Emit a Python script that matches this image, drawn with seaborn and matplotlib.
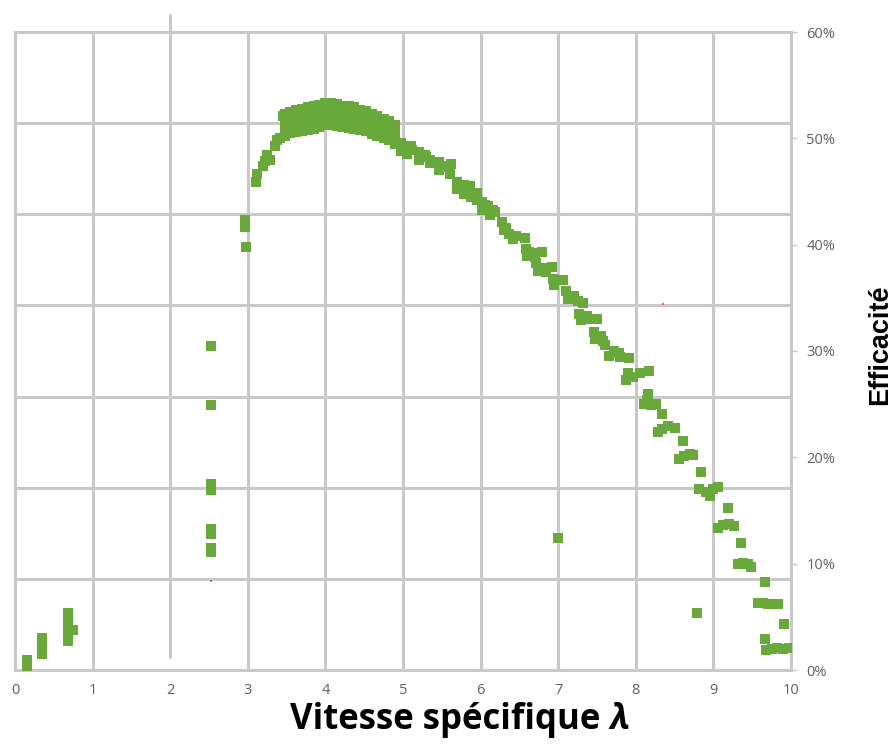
import matplotlib
matplotlib.use("Agg")
import matplotlib.pyplot as plt
import seaborn as sns
import pandas as pd

# ---- data (efficiency in %) ----
low_x = [0.15, 0.15, 0.15, 0.35, 0.35, 0.35, 0.35, 0.35,
         0.68, 0.68, 0.68, 0.68, 0.68, 0.68, 0.68, 0.68, 0.75]
low_y = [0.3, 0.6, 0.9, 1.5, 1.9, 2.3, 2.7, 3.0,
         2.7, 3.1, 3.5, 3.9, 4.3, 4.7, 5.1, 5.4, 3.8]

stall_x = [2.53, 2.53, 2.53, 2.53, 2.53, 2.53, 2.53, 2.53, 2.53,
           2.96, 2.96, 2.98]
stall_y = [30.5, 24.9, 17.5, 16.9, 13.3, 12.8, 11.5, 11.1, 11.3,
           42.3, 41.7, 39.8]

rise_x = [3.10, 3.12, 3.20, 3.22, 3.25, 3.28, 3.35, 3.38, 3.42, 3.45]
rise_y = [45.9, 46.6, 47.4, 47.9, 48.4, 48.0, 49.3, 49.8, 50.0, 52.1]

peak_x = [3.48, 3.55, 3.62, 3.70, 3.77, 3.85, 3.92, 4.00, 4.07, 4.15,
          4.22, 4.30, 4.37, 4.45, 4.52, 4.60, 4.67, 4.75, 4.82, 4.90]
peak_top = [52.3, 52.5, 52.7, 52.8, 52.9, 53.0, 53.1, 53.3, 53.3, 53.2,
            53.0, 53.0, 52.9, 52.7, 52.6, 52.3, 52.1, 51.8, 51.6, 51.3]
peak_upper = [51.6, 51.8, 52.0, 52.1, 52.2, 52.3, 52.4, 52.6, 52.6, 52.5,
              52.3, 52.3, 52.2, 52.0, 51.9, 51.6, 51.4, 51.1, 50.9, 50.6]
peak_lower = [50.9, 51.1, 51.3, 51.4, 51.5, 51.6, 51.8, 52.0, 52.0, 51.9,
              51.7, 51.6, 51.5, 51.4, 51.3, 51.0, 50.8, 50.5, 50.3, 50.0]
peak_low = [50.2, 50.5, 50.6, 50.7, 50.8, 50.9, 51.1, 51.3, 51.3, 51.2,
            51.1, 51.0, 50.9, 50.8, 50.7, 50.4, 50.2, 50.0, 49.8, 49.5]

fall_x = [4.97, 4.97, 5.05, 5.05, 5.12, 5.20, 5.20, 5.28, 5.35, 5.35,
          5.46, 5.46, 5.54, 5.60, 5.62, 5.70, 5.70, 5.78, 5.78, 5.86,
          5.88, 5.95, 5.95, 6.02, 6.02, 6.10, 6.12, 6.19, 6.27, 6.30,
          6.37, 6.42, 6.46, 6.57, 6.58, 6.60, 6.67, 6.70, 6.79, 6.72,
          6.74, 6.80, 6.84, 6.92, 6.93, 6.95, 7.06, 7.10, 7.12, 7.20,
          7.26, 7.32, 7.27, 7.30, 7.37, 7.42, 7.50, 7.46, 7.48, 7.55,
          7.58, 7.60, 7.66, 7.72, 7.78, 7.80, 7.91, 7.87, 7.90, 7.96,
          8.05, 8.17, 8.16, 8.10, 8.14, 8.20, 8.26, 8.34, 8.28, 8.34,
          8.42, 8.50, 8.61, 8.56, 8.62, 8.70, 8.74, 8.84, 8.82, 8.90,
          8.96, 9.00, 9.06, 9.19, 9.06, 9.13, 9.20, 9.27, 9.36, 9.32,
          9.38, 9.45, 9.49, 9.66, 9.58, 9.64, 9.70, 9.83, 8.79, 9.91,
          9.66, 9.68, 9.75, 9.82, 9.90, 9.97, 7.00,
          5.10, 5.30, 5.50, 5.74, 5.82, 5.91, 6.06, 6.16, 6.33, 6.62]
fall_y = [49.6, 48.8, 49.3, 48.5, 48.9, 48.7, 48.0, 48.4, 48.0, 47.7,
          47.8, 47.0, 47.3, 46.6, 47.6, 45.9, 45.2, 45.6, 44.8, 45.5,
          44.5, 44.9, 44.2, 44.0, 43.3, 43.6, 42.8, 43.1, 42.1, 41.4,
          41.0, 40.5, 40.8, 40.6, 39.6, 38.9, 39.2, 38.8, 39.3, 38.3,
          37.5, 37.8, 37.4, 37.9, 36.8, 36.2, 36.7, 35.6, 34.9, 35.2,
          34.7, 34.5, 33.5, 32.9, 33.3, 33.0, 33.0, 31.8, 31.1, 31.4,
          30.9, 30.6, 29.5, 30.0, 29.8, 29.4, 29.3, 27.3, 27.9, 27.6,
          27.9, 28.1, 26.0, 25.0, 25.4, 24.9, 25.0, 24.1, 22.4, 22.7,
          22.9, 22.8, 21.5, 19.8, 20.1, 20.3, 20.2, 18.6, 17.0, 16.7,
          16.4, 17.0, 17.2, 15.2, 13.4, 13.6, 13.7, 13.5, 11.9, 10.0,
          10.1, 10.0, 9.7, 8.3, 6.3, 6.3, 6.2, 6.2, 5.4, 4.3,
          2.9, 1.9, 2.0, 2.1, 2.0, 2.1, 12.4,
          49.3, 48.2, 47.4, 45.3, 45.0, 44.7, 43.7, 43.3, 41.6, 39.3]

red_x = [0.15, 2.53, 8.35, 4.93]
red_y = [0.1, 8.4, 34.4, 51.1]

x_ticks = [0, 1, 2, 3, 4, 5, 6, 7, 8, 9, 10]
y_ticks = [0, 10, 20, 30, 40, 50, 60]
y_tick_labels = ["0%", "10%", "20%", "30%", "40%", "50%", "60%"]
grid_y = [0, 60 / 7, 120 / 7, 180 / 7, 240 / 7, 300 / 7, 360 / 7, 60]

lam = low_x + stall_x + rise_x + peak_x * 4 + fall_x
eff = (low_y + stall_y + rise_y + peak_top + peak_upper + peak_lower
       + peak_low + fall_y)
df = pd.DataFrame({"lambda": lam, "eff": eff})
df_red = pd.DataFrame({"lambda": red_x, "eff": red_y})

# ---- style ----
sns.set_theme(style="white")
plt.rcParams["font.family"] = ["Open Sans", "DejaVu Sans"]

GREEN = "#69a93b"
GRID = "#c9c9c9"
TXT = "#5f5f5f"

fig = plt.figure(figsize=(8.96, 7.45), dpi=100)
ax = fig.add_axes([15 / 896, 75 / 745, 776 / 896, 638 / 745])

sns.scatterplot(data=df, x="lambda", y="eff", marker="s", s=42,
                color=GREEN, linewidth=0, ax=ax, zorder=3)
sns.scatterplot(data=df_red, x="lambda", y="eff", marker="s", s=3,
                color="#e8604a", linewidth=0, ax=ax, zorder=3)

ax.set_xlim(0, 10)
ax.set_ylim(0, 60)

# x axis
ax.set_xticks(x_ticks)
ax.set_xticklabels([str(v) for v in x_ticks])
ax.tick_params(axis="x", length=0, pad=9, labelsize=10.5, labelcolor=TXT)
for v in x_ticks[1:-1]:
    if v == 2:
        ax.axvline(v, ymin=0.02, ymax=1.027, color=GRID, lw=2.2,
                   clip_on=False, zorder=1)
    else:
        ax.axvline(v, color=GRID, lw=2.2, zorder=1)

# y axis: labels on the right, grid at its own positions
ax.yaxis.tick_right()
ax.set_yticks(y_ticks)
ax.set_yticklabels(y_tick_labels)
ax.tick_params(axis="y", which="major", length=4, width=1, color=GRID,
               pad=7, labelsize=10.5, labelcolor=TXT)
for v in grid_y[1:-1]:
    ax.axhline(v, color=GRID, lw=2.2, zorder=1)

for s in ax.spines.values():
    s.set_color(GRID)
    s.set_linewidth(2.2)

ax.set_xlabel("")
ax.set_ylabel("")

fig.text(600 / 896, 1 - 720 / 745, "Vitesse spécifique",
         ha="right", va="center", fontsize=25, fontweight="bold",
         color="black")
fig.text(610 / 896, 1 - 720 / 745, "λ",
         ha="left", va="center", fontsize=25, fontweight="bold",
         fontstyle="italic", color="black")
fig.text(880 / 896, 1 - 345 / 745, "Efficacité", rotation=90,
         ha="center", va="center", fontsize=19.5, fontweight="bold",
         family=["Liberation Sans", "DejaVu Sans"], color="black")

fig.savefig("out.png", dpi=100)
